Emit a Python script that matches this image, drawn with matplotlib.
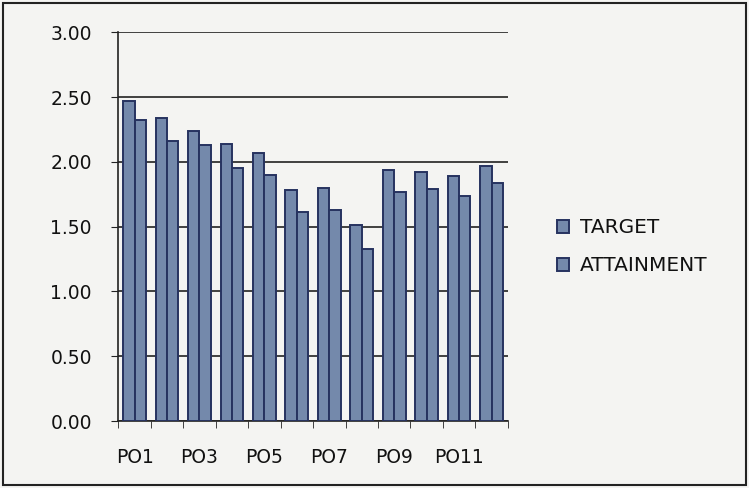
import numpy as np
import matplotlib.pyplot as plt
from matplotlib.patches import Rectangle

categories = ['PO1', 'PO2', 'PO3', 'PO4', 'PO5', 'PO6',
              'PO7', 'PO8', 'PO9', 'PO10', 'PO11', 'PO12']
target = [2.47, 2.34, 2.24, 2.14, 2.07, 1.78, 1.80, 1.51, 1.94, 1.92, 1.89, 1.97]
attainment = [2.32, 2.16, 2.13, 1.95, 1.90, 1.61, 1.63, 1.33, 1.77, 1.79, 1.74, 1.84]

plt.rcParams['font.family'] = ['DejaVu Sans']

fig = plt.figure(figsize=(7.49, 4.88), dpi=100)
fig.patch.set_facecolor('#f4f4f2')
ax = fig.add_axes([0.158, 0.137, 0.52, 0.797])
ax.set_facecolor('#f4f4f2')

x = np.arange(len(categories))
w = 0.35
face = '#7489ab'
edge = '#26325f'
ax.bar(x - w / 2, target, w, color=face, edgecolor=edge, linewidth=1.4,
       label='TARGET', zorder=3)
ax.bar(x + w / 2, attainment, w, color=face, edgecolor=edge, linewidth=1.4,
       label='ATTAINMENT', zorder=3)

ax.set_ylim(0, 3)
ax.set_xlim(-0.5, len(categories) - 0.5)
ax.set_yticks(np.arange(0, 3.01, 0.5))
ax.set_yticklabels(['%.2f' % v for v in np.arange(0, 3.01, 0.5)])
ax.yaxis.grid(True, color='#222222', linewidth=1.2, zorder=0)
ax.set_axisbelow(True)

ax.set_xticks(x[::2])
ax.set_xticklabels(categories[::2])
ax.set_xticks(np.arange(-0.5, len(categories)), minor=True)
ax.tick_params(axis='x', which='major', length=0, pad=19)
ax.tick_params(axis='x', which='minor', length=5, color='#222222')
ax.tick_params(axis='y', length=5, color='#222222', pad=14)
for lbl in ax.get_xticklabels() + ax.get_yticklabels():
    lbl.set_fontsize(13.5)
    lbl.set_color('#111111')

for s in ['top', 'right']:
    ax.spines[s].set_visible(False)
for s in ['left', 'bottom']:
    ax.spines[s].set_color('#222222')
    ax.spines[s].set_linewidth(1.2)

leg = fig.legend(loc='center left', bbox_to_anchor=(0.72, 0.494),
                 frameon=False, handlelength=0.6,
                 handleheight=0.6, handletextpad=0.5, labelspacing=0.95,
                 prop={'size': 14.5})
for t in leg.get_texts():
    t.set_color('#111111')

fig.patches.append(Rectangle((0.004, 0.006), 0.992, 0.988, transform=fig.transFigure,
                             fill=False, edgecolor='#222222', linewidth=1.5))

fig.savefig('out.png', dpi=100)
